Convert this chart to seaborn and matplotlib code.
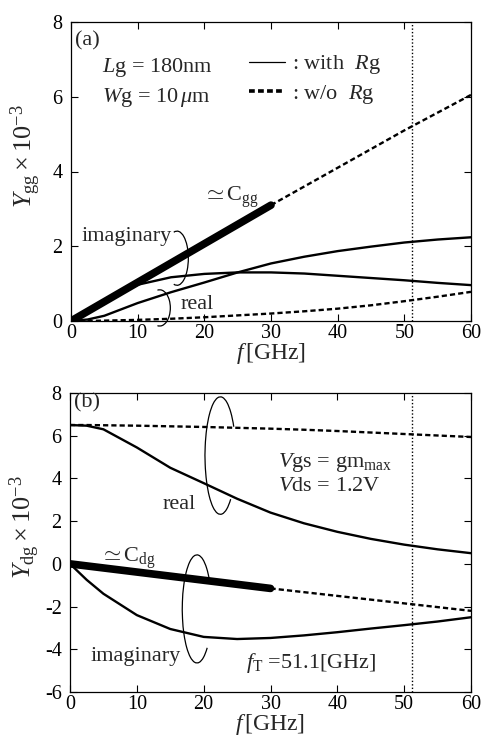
import matplotlib
matplotlib.use("Agg")
import matplotlib.pyplot as plt
from matplotlib.patches import Arc
from matplotlib.lines import Line2D
import seaborn as sns
import pandas as pd

# ---------------- data ----------------
freq = [0, 2.5, 5, 10, 15, 20, 25, 30, 35, 40, 45, 50, 55, 60]

# panel (a): Ygg x 1e-3
ygg_imag_with = [0, 0.26, 0.52, 0.97, 1.17, 1.26, 1.30, 1.30, 1.27, 1.21, 1.15, 1.09, 1.02, 0.96]
ygg_real_with = [0, 0.04, 0.14, 0.48, 0.77, 1.03, 1.30, 1.54, 1.72, 1.87, 1.99, 2.10, 2.18, 2.24]
ygg_real_wo = [0, 0.0, 0.01, 0.03, 0.06, 0.10, 0.15, 0.20, 0.26, 0.33, 0.42, 0.53, 0.65, 0.78]
cgg_freq = [0, 30]
cgg_vals = [0, 3.1]
ygg_imag_wo_freq = [30, 40, 50, 60]
ygg_imag_wo = [3.1, 4.1, 5.1, 6.05]

# panel (b): Ydg x 1e-3
ydg_real_with = [6.5, 6.47, 6.3, 5.45, 4.5, 3.78, 3.05, 2.4, 1.9, 1.5, 1.17, 0.9, 0.68, 0.5]
ydg_real_wo = [6.5, 6.5, 6.49, 6.47, 6.44, 6.41, 6.37, 6.33, 6.28, 6.22, 6.15, 6.08, 6.01, 5.94]
ydg_imag_with = [0, -0.75, -1.4, -2.4, -3.05, -3.42, -3.52, -3.47, -3.35, -3.2, -3.03, -2.87, -2.7, -2.5]
cdg_freq = [0, 30]
cdg_vals = [0, -1.15]
ydg_imag_wo_freq = [30, 40, 50, 60]
ydg_imag_wo = [-1.15, -1.5, -1.85, -2.2]

f_T = 51.1
xticks = [0, 10, 20, 30, 40, 50, 60]
yticks_a = [0, 2, 4, 6, 8]
yticks_b = [-6, -4, -2, 0, 2, 4, 6, 8]

# ---------------- style ----------------
sns.set_style("ticks")
plt.rcParams["font.family"] = ["Liberation Serif", "DejaVu Serif"]
plt.rcParams["mathtext.fontset"] = "custom"
plt.rcParams["mathtext.rm"] = "Liberation Serif"
plt.rcParams["mathtext.it"] = "Liberation Serif:italic"
plt.rcParams["mathtext.bf"] = "Liberation Serif:bold"
plt.rcParams["axes.unicode_minus"] = False

fig = plt.figure(figsize=(4.82, 7.37), dpi=100)
ax1 = fig.add_axes([71 / 482, (737 - 321) / 737, 400 / 482, 299 / 737])
ax2 = fig.add_axes([70 / 482, (737 - 692) / 737, 401 / 482, 299 / 737])

DASH = (2.2, 1.3)
LW = 1.7
TXT = 16


def line(ax, x, y, lw=LW, dashed=False):
    df = pd.DataFrame({"f": x, "y": y})
    kw = dict(data=df, x="f", y="y", ax=ax, color="black", linewidth=lw,
              sort=False, estimator=None)
    sns.lineplot(**kw)
    if dashed:
        ax.lines[-1].set_dashes(DASH)


def style_axes(ax, yticks, ylim):
    ax.set_xlim(0, 60)
    ax.set_ylim(*ylim)
    ax.set_xticks(xticks)
    ax.set_yticks(yticks)
    ax.tick_params(direction="in", top=True, right=True, length=5, width=0.8,
                   labelsize=14.5, colors="black")
    ax.tick_params(axis="x", pad=2)
    ax.tick_params(axis="y", pad=6)
    for s in ax.spines.values():
        s.set_linewidth(0.9)
        s.set_color("black")
    ax.set_xlabel(r"$f\,$[GHz]", fontsize=17, labelpad=-1)
    ax.axvline(f_T, color="black", linewidth=1.0, linestyle=(0, (1, 1.5)))


# ---------------- panel (a) ----------------
line(ax1, freq, ygg_imag_with)
line(ax1, freq, ygg_real_with)
line(ax1, freq, ygg_real_wo, dashed=True)
line(ax1, cgg_freq, cgg_vals, lw=5.5)
line(ax1, ygg_imag_wo_freq, ygg_imag_wo, dashed=True)
style_axes(ax1, yticks_a, (0, 8))
ax1.set_ylabel(r"$Y_{\mathrm{gg}}\times10^{-3}$", fontsize=19)
ax1.yaxis.set_label_coords(-0.07, 0.55)

ax1.text(0.6, 7.5, "(a)", fontsize=TXT, va="center", ha="left")
ax1.text(4.65, 6.77, r"$L$g = 180nm", fontsize=TXT, va="center", ha="left")
ax1.text(4.65, 5.97, r"$W$g = 10$\,\mu$m", fontsize=TXT, va="center", ha="left")
ax1.text(19.8, 3.3, r"$\simeq$C$_{\mathrm{gg}}$", fontsize=TXT, va="center", ha="left")
ax1.text(1.6, 2.25, "imaginary", fontsize=TXT, va="center", ha="left")
ax1.text(16.5, 0.45, "real", fontsize=TXT, va="center", ha="left")
ax1.add_patch(Arc((15.9, 1.68), 3.4, 1.45, theta1=-125, theta2=125,
                  color="black", lw=0.9))
ax1.add_patch(Arc((13.3, 0.35), 3.2, 0.97, theta1=-125, theta2=125,
                  color="black", lw=0.9, clip_on=False))

handles = [Line2D([], [], color="black", lw=0.9),
           Line2D([], [], color="black", lw=2.6, dashes=(1.6, 0.9))]
ax1.legend(handles, [r": with  $R$g", r": w/o  $R$g"], loc="upper left",
           bbox_to_anchor=(0.445, 0.895), frameon=False, fontsize=TXT,
           handlelength=1.6, handletextpad=0.35, borderpad=0, borderaxespad=0,
           labelspacing=0.3)

# ---------------- panel (b) ----------------
line(ax2, freq, ydg_real_with)
line(ax2, freq, ydg_real_wo, dashed=True)
line(ax2, freq, ydg_imag_with)
line(ax2, cdg_freq, cdg_vals, lw=5.5)
line(ax2, ydg_imag_wo_freq, ydg_imag_wo, dashed=True)
style_axes(ax2, yticks_b, (-6, 8))
ax2.set_ylabel(r"$Y_{\mathrm{dg}}\times10^{-3}$", fontsize=19)
ax2.yaxis.set_label_coords(-0.07, 0.55)

ax2.text(0.6, 7.53, "(b)", fontsize=TXT, va="center", ha="left")
ax2.text(31.1, 4.75, r"$V$gs = gm$_{\mathrm{max}}$", fontsize=TXT,
         va="center", ha="left")
ax2.text(31.1, 3.6, r"$V$ds = 1.2V", fontsize=TXT, va="center", ha="left")
ax2.text(13.9, 2.76, "real", fontsize=TXT, va="center", ha="left")
ax2.text(4.5, 0.27, r"$\simeq$C$_{\mathrm{dg}}$", fontsize=TXT, va="center", ha="left")
ax2.text(3.0, -4.36, "imaginary", fontsize=TXT, va="center", ha="left")
ax2.text(26.3, -4.64, r"$f_{\mathrm{T}}$ =51.1[GHz]", fontsize=TXT, va="center",
         ha="left")
ax2.add_patch(Arc((22.5, 5.07), 4.6, 5.5, theta1=34, theta2=307,
                  color="black", lw=0.9))
ax2.add_patch(Arc((19.0, -2.11), 4.4, 5.06, theta1=35, theta2=310,
                  color="black", lw=0.9))

fig.savefig("out.png", dpi=100)
